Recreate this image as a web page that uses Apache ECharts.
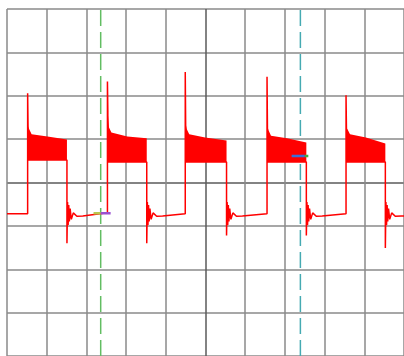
<!DOCTYPE html>
<html>
<head>
<meta charset="utf-8">
<script src="https://cdn.jsdelivr.net/npm/echarts@6/dist/echarts.min.js"></script>
<style>
  html, body { margin: 0; padding: 0; background: #ffffff; }
  #scope { width: 404px; height: 356px; }
</style>
</head>
<body>
<div id="scope"></div>
<script>
// Units: time in horizontal divisions (0..10), level in vertical divisions (-4..4)
const xTicks = [0, 1, 2, 3, 4, 5, 6, 7, 8, 9, 10];
const yTicks = [-4, -3, -2, -1, 0, 1, 2, 3, 4];

// One entry per pulse
const riseT        = [0.52, 2.53, 4.49, 6.55, 8.54];
const fallT        = [1.51, 3.52, 5.53, 7.54, 9.53];
const spikeHigh    = [2.06, 2.33, 2.55, 2.44, 2.01];
const spikeLow     = [-1.40, -1.40, -1.22, -1.22, -1.51];
const overshoot    = [1.31, 1.65, 1.38, 1.31, 1.27];
const bandKnee     = [1.23, 1.27, 1.23, 1.20, 1.22];
const bandTopStart = [1.11, 1.15, 1.11, 1.08, 1.11];
const bandTopMid   = [1.06, 1.06, 1.04, 1.02, 1.04];
const bandTopEnd   = [0.99, 1.02, 0.97, 0.92, 0.90];
const bandBottom   = [0.52, 0.47, 0.47, 0.47, 0.47];
const lowBefore    = [-0.72, -0.70, -0.72, -0.72, -0.72];
const lowAfter     = [-0.77, -0.77, -0.77, -0.77, -0.77];

// Settling ring after each falling edge: time offset and level
const ringDt = [0.015, 0.03, 0.045, 0.06, 0.08, 0.11, 0.16, 0.25];
const ringV  = [-0.45, -0.98, -0.52, -0.90, -0.60, -0.85, -0.70, -0.78];

// Cursors and their readout markers
const cursorT = [2.36, 7.39];
const cursorColors = ['#62bd62', '#45aab2'];
const readout1 = { y: -0.71, x: [2.18, 2.36, 2.61], colors: ['#b9c64e', '#9a4fd0'] };
const readout2 = { y: 0.61, x: [7.17, 7.50, 7.59], colors: ['#3a6fd8', '#3cb043'] };

// Trace outline (edges, spikes and low level); the noisy high level is a filled band
const trace = [[0, lowBefore[0]]];
riseT.forEach((r, i) => {
  const f = fallT[i];
  trace.push([r, lowBefore[i]], [r, spikeHigh[i]], [r + 0.01, overshoot[i]],
             [r + 0.01, bandBottom[i]], [f, bandBottom[i]], [f, spikeLow[i]]);
  ringDt.forEach((dt, k) => trace.push([f + dt, ringV[k]]));
  trace.push([f + 0.40, lowAfter[i]]);
});
trace.push([10, lowAfter[lowAfter.length - 1]]);

const gridX = xTicks.map(t => (t === 5 ? '#5a5a5a' : '#8a8a8a'));
const gridY = yTicks.map(t => (t === 0 ? '#5a5a5a' : '#8a8a8a'));

const series = [];

cursorT.forEach((t, i) => {
  series.push({
    type: 'line', data: [[t, -4], [t, 4]], showSymbol: false, silent: true, z: 2,
    lineStyle: { color: cursorColors[i], width: 1.5, type: [16, 6] }
  });
});

series.push({
  type: 'custom', z: 3, clip: true,
  data: riseT.map((r, i) => [r, bandBottom[i], fallT[i]]),
  renderItem(params, api) {
    const i = params.dataIndex;
    const r = riseT[i], f = fallT[i];
    const pts = [
      [r + 0.005, overshoot[i]], [r + 0.04, bandKnee[i]], [r + 0.10, bandTopStart[i]],
      [r + 0.50, bandTopMid[i]], [f, bandTopEnd[i]], [f, bandBottom[i]], [r + 0.005, bandBottom[i]]
    ].map(p => api.coord(p));
    return { type: 'polygon', shape: { points: pts }, style: { fill: '#ff0000' } };
  }
});

series.push({
  type: 'line', data: trace, showSymbol: false, silent: true, z: 4,
  lineStyle: { color: '#ff0000', width: 1.5 }
});

[readout1, readout2].forEach(m => {
  m.colors.forEach((c, k) => {
    series.push({
      type: 'line', data: [[m.x[k], m.y], [m.x[k + 1], m.y]], showSymbol: false, silent: true, z: 5,
      lineStyle: { color: c, width: 2.5 }
    });
  });
});

const chart = echarts.init(document.getElementById('scope'), null, { renderer: 'canvas' });
chart.setOption({
  animation: false,
  backgroundColor: '#ffffff',
  grid: { left: 7, top: 9, width: 403, height: 355.5, containLabel: false },
  xAxis: {
    type: 'value', min: 0, max: 10, interval: 1,
    axisLine: { show: false }, axisTick: { show: false }, axisLabel: { show: false },
    splitLine: { show: true, lineStyle: { color: gridX, width: 1.5 } }
  },
  yAxis: {
    type: 'value', min: -4, max: 4, interval: 1,
    axisLine: { show: false }, axisTick: { show: false }, axisLabel: { show: false },
    splitLine: { show: true, lineStyle: { color: gridY, width: 1.5 } }
  },
  series
});
</script>
</body>
</html>
